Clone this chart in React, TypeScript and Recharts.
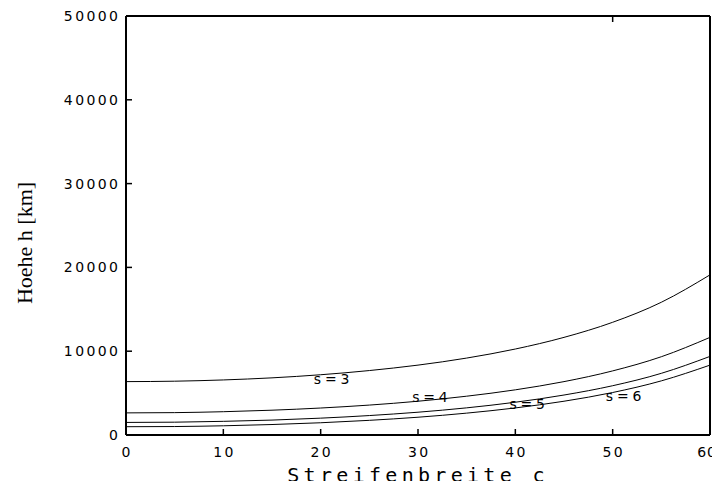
import React from "react";
import {
  LineChart,
  Line,
  XAxis,
  YAxis,
  ReferenceDot,
} from "recharts";

// Streifenbreite c (x) and Hoehe h in km for s = 3..6
const widths = [0, 5, 10, 15, 20, 25, 30, 35, 40, 45, 50, 55, 60];
const heightS3 = [6370, 6420, 6570, 6820, 7190, 7690, 8340, 9180, 10260, 11650, 13450, 15840, 19110];
const heightS4 = [2640, 2670, 2780, 2960, 3220, 3570, 4030, 4630, 5390, 6370, 7650, 9340, 11650];
const heightS5 = [1500, 1530, 1630, 1780, 2010, 2320, 2720, 3240, 3910, 4770, 5880, 7360, 9380];
const heightS6 = [990, 1010, 1100, 1250, 1460, 1750, 2120, 2610, 3230, 4030, 5070, 6460, 8340];

const xTicks = [0, 10, 20, 30, 40, 50, 60];
const yTicks = [0, 10000, 20000, 30000, 40000, 50000];

const curveLabels = ["s=3", "s=4", "s=5", "s=6"];
const labelX = [19.3, 29.4, 39.4, 49.3];
const labelY = [6740, 4590, 3700, 4710];

const data = widths.map((c, i) => ({
  c,
  s3: heightS3[i],
  s4: heightS4[i],
  s5: heightS5[i],
  s6: heightS6[i],
}));

const TICK_FONT = "'DejaVu Sans', sans-serif";
const TICK_LEN = 6;

const BottomTick = ({ x, y, payload }: any) => {
  // the last label sits flush with the right edge of the picture
  const last = payload.value === xTicks[xTicks.length - 1];
  return (
    <g>
      <line x1={x} y1={y} x2={x} y2={y - TICK_LEN} stroke="#000" strokeWidth={1.5} />
      <text
        x={last ? 717 : x + 1.2}
        y={y + 22}
        textAnchor={last ? "end" : "middle"}
        fontFamily={TICK_FONT}
        fontSize={14}
        letterSpacing={last ? 1 : 2.4}
        fill="#000"
      >
        {payload.value}
      </text>
    </g>
  );
};

const LeftTick = ({ x, y, payload }: any) => (
  <g>
    <line x1={x} y1={y} x2={x + TICK_LEN} y2={y} stroke="#000" strokeWidth={1.5} />
    <text
      x={x - 5.6}
      y={y + 5}
      textAnchor="end"
      fontFamily={TICK_FONT}
      fontSize={14}
      letterSpacing={2.4}
      fill="#000"
    >
      {payload.value}
    </text>
  </g>
);

const TopTick = ({ x, y }: any) => (
  <line x1={x} y1={y} x2={x} y2={y + TICK_LEN} stroke="#000" strokeWidth={1.5} />
);

const RightTick = ({ x, y }: any) => (
  <line x1={x} y1={y} x2={x - TICK_LEN} y2={y} stroke="#000" strokeWidth={1.5} />
);

const CurveLabel = (text: string) => (props: any) => (
  <text
    x={props.cx}
    y={props.cy + 5}
    fontFamily={TICK_FONT}
    fontSize={14}
    letterSpacing={3.8}
    fill="#000"
  >
    {text}
  </text>
);

const axisLine = { stroke: "#000", strokeWidth: 2 };

export default function App() {
  return (
    <div style={{ margin: -8, width: 720, height: 489, background: "#fff", position: "relative" }}>
      <LineChart
        width={720}
        height={489}
        data={data}
        margin={{ top: 15, right: 9, bottom: 0, left: 0 }}
        style={{ overflow: "visible" }}
      >
        <XAxis
          dataKey="c"
          type="number"
          domain={[0, 60]}
          ticks={xTicks}
          tickSize={0}
          tickMargin={0}
          tickLine={false}
          axisLine={axisLine}
          tick={<BottomTick />}
          height={54}
          interval={0}
        />
        <XAxis
          xAxisId="top"
          orientation="top"
          type="number"
          domain={[0, 60]}
          ticks={xTicks}
          tickSize={0}
          tickMargin={0}
          tickLine={false}
          axisLine={axisLine}
          tick={<TopTick />}
          height={1}
          interval={0}
        />
        <YAxis
          type="number"
          domain={[0, 50000]}
          ticks={yTicks}
          tickSize={0}
          tickMargin={0}
          tickLine={false}
          axisLine={axisLine}
          tick={<LeftTick />}
          width={126}
          interval={0}
        />
        <YAxis
          yAxisId="right"
          orientation="right"
          type="number"
          domain={[0, 50000]}
          ticks={yTicks}
          tickSize={0}
          tickMargin={0}
          tickLine={false}
          axisLine={axisLine}
          tick={<RightTick />}
          width={1}
          interval={0}
        />
        {["s3", "s4", "s5", "s6"].map((k) => (
          <Line
            key={k}
            dataKey={k}
            type="monotone"
            stroke="#000"
            strokeWidth={1}
            dot={false}
            isAnimationActive={false}
          />
        ))}
        {curveLabels.map((t, i) => (
          <ReferenceDot
            key={t}
            x={labelX[i]}
            y={labelY[i]}
            r={0}
            shape={CurveLabel(t)}
          />
        ))}
      </LineChart>
      <div
        style={{
          position: "absolute",
          left: 126,
          width: 584,
          top: 463,
          textAlign: "center",
          fontFamily: "'DejaVu Sans Mono', monospace",
          fontSize: 20,
          lineHeight: "24px",
          letterSpacing: 4.3,
          color: "#000",
        }}
      >
        Streifenbreite c
      </div>
      <div
        style={{
          position: "absolute",
          left: 25,
          top: 243,
          transform: "translate(-50%, -50%) rotate(-90deg)",
          fontFamily: "'Liberation Serif', serif",
          fontSize: 22,
          whiteSpace: "nowrap",
          color: "#000",
        }}
      >
        Hoehe h [km]
      </div>
    </div>
  );
}
